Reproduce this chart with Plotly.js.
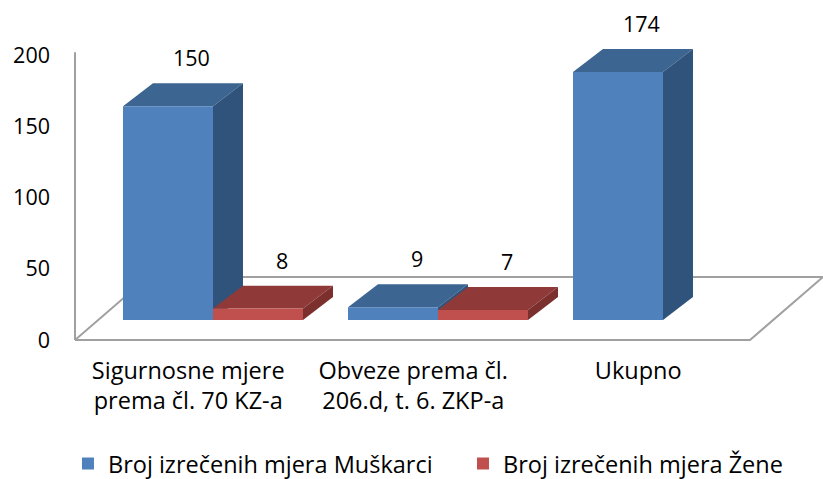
<!DOCTYPE html>
<html>
<head>
<meta charset="utf-8">
<script src="https://cdn.plot.ly/plotly-3.0.1.min.js"></script>
<style>html,body{margin:0;padding:0;background:#fff}#chart{width:823px;height:479px}</style>
</head>
<body>
<div id="chart"></div>
<script>
// ---- data ----
const categories = ["Sigurnosne mjere<br>prema čl. 70 KZ-a", "Obveze prema čl.<br>206.d, t. 6. ZKP-a", "Ukupno"];
const seriesNames = ["Broj izrečenih mjera Muškarci", "Broj izrečenih mjera Žene"];
const muskarci = [150, 9, 174];
const zene = [8, 7, null];
const yTicks = [0, 50, 100, 150, 200];

// ---- styling / geometry constants ----
const FONT = "'Open Sans', 'Noto Sans', sans-serif";
const FS_NUM = 21.5;   // numbers
const FS_TXT = 23.5;   // words
const BAR_W = 0.4;            // width of each bar in category units
const DX = 0.1333, DY = 16.1; // pseudo-3D depth offset (x units, y units)
const fronts = ["#4f81bd", "#c0504d"];
const tops = ["#3c6591", "#8f3a38"];
const sides = ["#30537c", "#7b302e"];
const offsets = [-BAR_W, 0];
const legendIds = ["legend", "legend2"];
const series = [muskarci, zene];
const idx = categories.map((_, i) => i);

const traces = series.map((vals, s) => ({
  type: "bar",
  name: seriesNames[s],
  legend: legendIds[s],
  x: idx,
  y: vals,
  width: BAR_W,
  offset: offsets[s],
  yaxis: "y2",
  marker: { color: fronts[s], line: { width: 0 } },
  hoverinfo: "skip"
}));

// floor and wall (decoration)
const shapes = [
  { type: "path", layer: "below", xref: "x", yref: "y",
    path: "M -0.6133,0 L 2.3867,0 L 2.7111,44.2 L -0.2889,44.2 Z",
    line: { color: "#a0a0a0", width: 2 }, fillcolor: "#ffffff" },
  { type: "line", layer: "below", xref: "paper", yref: "y",
    x0: 0, x1: 0, y0: 0, y1: 202, line: { color: "#a0a0a0", width: 2 } }
];
const annotations = [];
series.forEach((vals, s) => {
  vals.forEach((v, i) => {
    if (v === null || v === undefined) return;
    const x0 = i + offsets[s], x1 = x0 + BAR_W;
    // top face
    shapes.push({ type: "path", layer: "below", xref: "x", yref: "y2",
      path: `M ${x0},${v} L ${x1},${v} L ${x1 + DX},${v + DY} L ${x0 + DX},${v + DY} Z`,
      fillcolor: tops[s], line: { width: 0 } });
    // side face
    shapes.push({ type: "path", layer: "below", xref: "x", yref: "y2",
      path: `M ${x1},0 L ${x1 + DX},${DY} L ${x1 + DX},${v + DY} L ${x1},${v} Z`,
      fillcolor: sides[s], line: { width: 0 } });
    annotations.push({ xref: "x", yref: "y2", x: (x0 + x1) / 2 + DX * 0.8, y: v + DY,
      text: String(v), showarrow: false, yanchor: "bottom", yshift: 9,
      font: { family: FONT, size: FS_NUM, color: "#000" } });
  });
});

const legendBase = {
  orientation: "h", xanchor: "left", y: -0.28, yanchor: "top",
  font: { family: FONT, size: FS_TXT, color: "#000" }, bgcolor: "rgba(0,0,0,0)"
};

const layout = {
  width: 823, height: 479,
  margin: { l: 75, r: 0, t: 0, b: 134, autoexpand: false },
  paper_bgcolor: "#fff", plot_bgcolor: "rgba(0,0,0,0)",
  barmode: "overlay",
  showlegend: true,
  font: { family: FONT, size: FS_TXT, color: "#000" },
  xaxis: {
    range: [-0.6133, 2.7111], showgrid: false, zeroline: false, showline: false,
    tickmode: "array", tickvals: idx.map(i => i - 0.11), ticktext: categories,
    ticks: "", ticklabelstandoff: 9, fixedrange: true,
    tickfont: { family: FONT, size: FS_TXT, color: "#000" }
  },
  yaxis: {
    range: [-3.509, 238.6], showgrid: false, zeroline: false, showline: false,
    tickmode: "array", tickvals: yTicks, ticks: "", ticklabelstandoff: 24,
    tickfont: { family: FONT, size: FS_NUM, color: "#000" }
  },
  yaxis2: {
    range: [-17.54, 224.56], overlaying: "y", visible: false
  },
  legend: Object.assign({}, legendBase, { x: -0.0094 }),
  legend2: Object.assign({}, legendBase, { x: 0.5187 }),
  shapes: shapes,
  annotations: annotations
};

Plotly.newPlot("chart", traces, layout, { displayModeBar: false, staticPlot: true });
</script>
</body>
</html>
